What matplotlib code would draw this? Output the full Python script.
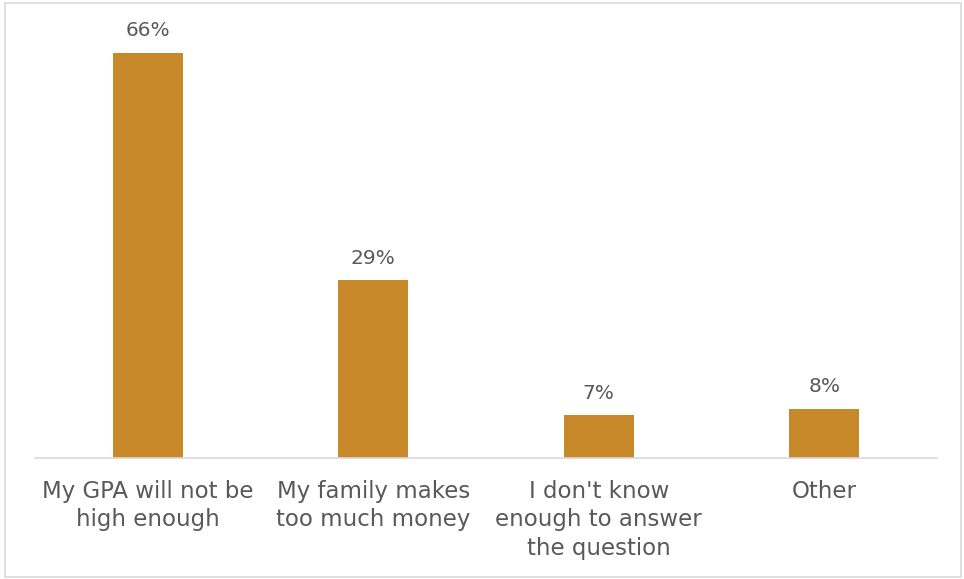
import matplotlib
matplotlib.use("Agg")
from matplotlib import pyplot as plt
from matplotlib.patches import Rectangle

categories = ["My GPA will not be\nhigh enough",
              "My family makes\ntoo much money",
              "I don't know\nenough to answer\nthe question",
              "Other"]
values = [66, 29, 7, 8]
labels = ["66%", "29%", "7%", "8%"]

bar_color = "#C8892B"
text_color = "#595959"

fig = plt.figure(figsize=(9.64, 5.79), dpi=100)
ax = fig.add_axes([0.0363, 0.209, 0.9357, 0.742])

x = range(len(values))
bars = ax.bar(x, values, width=0.31, color=bar_color, zorder=2)
for b, lab in zip(bars, labels):
    ax.annotate(lab, (b.get_x() + b.get_width() / 2, b.get_height()),
                xytext=(0, 9), textcoords="offset points",
                ha="center", va="bottom", fontsize=14.5, color=text_color)

ax.set_xlim(-0.5, len(values) - 0.5)
ax.set_ylim(0, 70)
ax.set_xticks(list(x))
ax.set_xticklabels(categories, fontsize=16.5, color=text_color, linespacing=1.33)
ax.tick_params(axis="x", length=0, pad=15.5)
ax.set_yticks([])
for s in ["top", "right", "left"]:
    ax.spines[s].set_visible(False)
ax.spines["bottom"].set_color("#D9D9D9")
ax.spines["bottom"].set_linewidth(1.2)

# light border around the chart
fig.patches.append(Rectangle((0.005, 0.004), 0.992, 0.99, transform=fig.transFigure,
                             fill=False, edgecolor="#D9D9D9", linewidth=1.2))

fig.savefig("out.png", dpi=100)
